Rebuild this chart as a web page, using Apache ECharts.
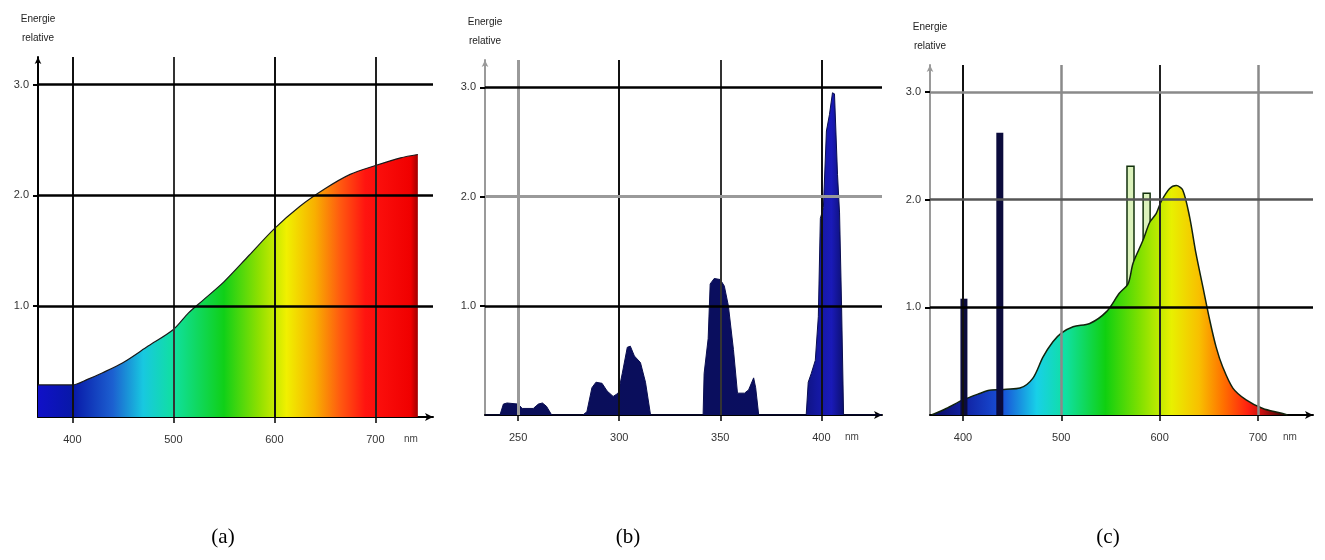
<!DOCTYPE html>
<html>
<head>
<meta charset="utf-8">
<script src="https://cdn.jsdelivr.net/npm/echarts@6/dist/echarts.min.js"></script>
<style>
html, body { margin: 0; padding: 0; background: #fff; }
#chart { width: 1325px; height: 560px; }
</style>
</head>
<body>
<div id="chart"></div>
<script>
// (a) continuous spectrum
var wlA = [366, 380, 400, 415, 430, 450, 475, 500, 515, 530, 550, 575, 600, 625, 650, 675, 700, 725, 742];
var valA = [0.29, 0.29, 0.29, 0.34, 0.40, 0.49, 0.64, 0.79, 0.94, 1.06, 1.22, 1.46, 1.70, 1.90, 2.06, 2.19, 2.27, 2.34, 2.37];

// (b) line spectrum (UV)
var wlB = [233.6, 241, 242.7, 244.5, 250, 252, 257.5, 260, 262, 264, 266.6, 282, 284, 286.5, 288.5, 291.5, 294, 297, 299.5, 301.5,
    304, 305.5, 307.5, 310.5, 313, 315.5, 341.5, 342, 344, 345, 347, 350, 352, 354, 356.5, 358.5, 362, 364, 366.5, 367.5,
    369, 392.5, 393.5, 395, 397, 398.5, 399.5, 401, 402.5, 404, 405.5, 406.5, 408, 409, 410, 411, 430];
var valB = [0, 0, 0.10, 0.11, 0.10, 0.06, 0.06, 0.10, 0.11, 0.08, 0, 0, 0.03, 0.25, 0.30, 0.29, 0.22, 0.17, 0.20, 0.38,
    0.62, 0.63, 0.54, 0.48, 0.30, 0, 0, 0.38, 0.70, 1.20, 1.25, 1.24, 1.18, 1.00, 0.60, 0.20, 0.20, 0.23, 0.34, 0.25,
    0, 0, 0.30, 0.38, 0.50, 0.90, 1.80, 1.90, 2.60, 2.75, 2.95, 2.94, 2.20, 1.85, 1.00, 0, 0];

// (c) fluorescent spectrum
var wlC = [368, 383, 400, 417, 427, 444, 458, 471, 481.5, 491.5, 500, 512, 529, 546, 559, 568, 573, 583, 590, 596.5,
    601.5, 610, 617, 623.5, 630.5, 637, 644, 651, 657.5, 664, 674.5, 688, 705, 722, 730];
var valC = [0, 0.06, 0.14, 0.20, 0.23, 0.24, 0.25, 0.34, 0.54, 0.68, 0.76, 0.82, 0.85, 0.96, 1.13, 1.22, 1.41, 1.62, 1.79, 1.87,
    1.98, 2.10, 2.13, 2.09, 1.84, 1.50, 1.19, 0.88, 0.63, 0.45, 0.25, 0.14, 0.06, 0.02, 0];
var peakWlC = [401, 437.5];
var peakValC = [1.08, 2.62];
var bandWlC = [570.4, 586.8];
var bandBaseC = [1.0, 1.3];
var bandTopC = [2.31, 2.06];

var ticksA = [400, 500, 600, 700];
var ticksB = [250, 300, 350, 400];
var ticksC = [400, 500, 600, 700];
var ticksY = [1, 2, 3];
var panelNames = ['(a)', '(b)', '(c)'];

function pairs(xs, ys) {
    return xs.map(function (x, i) { return [x, ys[i]]; });
}

function grad(stops, lo, hi) {
    return new echarts.graphic.LinearGradient(0, 0, 1, 0, stops.map(function (s) {
        return { offset: (s[0] - lo) / (hi - lo), color: s[1] };
    }));
}

function gridMarks(xs, xColors, yColors) {
    var d = [];
    xs.forEach(function (v, i) {
        d.push({ xAxis: v, lineStyle: { color: xColors[i][0], width: xColors[i][1] } });
    });
    ticksY.forEach(function (v, i) {
        d.push({ yAxis: v, lineStyle: { color: yColors[i][0], width: yColors[i][1] } });
    });
    return {
        silent: true, symbol: 'none', animation: false,
        label: { show: false },
        lineStyle: { type: 'solid' },
        emphasis: { disabled: true },
        data: d
    };
}

// narrow spikes drawn between two values, through the axis scale
function spikes(w, style) {
    return function (params, api) {
        var p0 = api.coord([api.value(0), api.value(1)]);
        var p1 = api.coord([api.value(0), api.value(2)]);
        return {
            type: 'rect',
            shape: { x: p0[0] - w / 2, y: p1[1], width: w, height: p0[1] - p1[1] },
            style: style
        };
    };
}

var labelFont = { fontFamily: 'Liberation Sans', fontSize: 11, color: '#333' };

function xAxisOf(idx, min, max, ticks, nameGap) {
    return {
        gridIndex: idx, type: 'value', min: min, max: max,
        name: 'nm', nameLocation: 'end', nameGap: nameGap,
        nameTextStyle: { fontFamily: 'Liberation Sans', fontSize: 10, color: '#444', verticalAlign: 'top', padding: [17, 0, 0, 0] },
        axisLine: { show: true, symbol: ['none', 'arrow'], symbolSize: [6, 8], lineStyle: { color: '#000', width: 2 } },
        axisTick: { show: true, customValues: ticks, length: 6, lineStyle: { color: '#000', width: 1.5 } },
        axisLabel: Object.assign({ customValues: ticks, margin: 17 }, labelFont),
        splitLine: { show: false }
    };
}

function yAxisOf(idx, color) {
    return {
        gridIndex: idx, type: 'value', min: 0, max: 3.25,
        name: 'Energie\nrelative', nameLocation: 'end', nameGap: 9,
        nameTextStyle: { fontFamily: 'Liberation Sans', fontSize: 10, color: '#222', lineHeight: 19, align: 'center' },
        axisLine: { show: true, symbol: ['none', 'arrow'], symbolSize: [5, 7], lineStyle: { color: color, width: 2 } },
        axisTick: { show: true, customValues: ticksY, length: 5, lineStyle: { color: '#000', width: 2 } },
        axisLabel: Object.assign({ customValues: ticksY, margin: 9, formatter: function (v) { return v.toFixed(1); } }, labelFont),
        splitLine: { show: false }
    };
}

var chart = echarts.init(document.getElementById('chart'));
chart.setOption({
    animation: false,
    backgroundColor: '#fff',
    title: panelNames.map(function (t, i) {
        return {
            text: t, left: [218, 623, 1103][i], top: 522, textAlign: 'center',
            textStyle: { fontFamily: 'Liberation Serif', fontSize: 21, fontWeight: 'normal', color: '#000' }
        };
    }),
    grid: [
        { left: 38, top: 57, right: 892, bottom: 143, outerBoundsMode: 'none' },
        { left: 485, top: 60, right: 443, bottom: 145, outerBoundsMode: 'none' },
        { left: 930, top: 65, right: 12, bottom: 145, outerBoundsMode: 'none' }
    ],
    xAxis: [
        xAxisOf(0, 366, 757, ticksA, -29),
        xAxisOf(1, 233.6, 430, ticksB, -37),
        xAxisOf(2, 366.5, 756, ticksC, -30)
    ],
    yAxis: [
        yAxisOf(0, '#000'),
        yAxisOf(1, '#9a9a9a'),
        yAxisOf(2, '#9a9a9a')
    ],
    series: [
        {
            type: 'line', xAxisIndex: 0, yAxisIndex: 0,
            data: pairs(wlA, valA), smooth: 0.3, showSymbol: false,
            lineStyle: { color: '#1a1a1a', width: 1.2 },
            areaStyle: {
                opacity: 1,
                color: grad([[366, '#1010c8'], [400, '#0818a8'], [440, '#1c60d0'], [470, '#18c8e0'], [500, '#10e0a0'],
                    [550, '#10d018'], [585, '#90e000'], [612, '#f0f000'], [640, '#f8b000'], [665, '#ff5a10'],
                    [690, '#ff1410'], [735, '#f00000'], [742, '#a00000']], 366, 742)
            },
            markLine: gridMarks(ticksA,
                [['#111', 2], ['#333', 2], ['#111', 2], ['#222', 2]],
                [['#000', 2.5], ['#000', 2.5], ['#000', 2.5]])
        },
        {
            type: 'line', xAxisIndex: 1, yAxisIndex: 1,
            data: pairs(wlB, valB), showSymbol: false,
            lineStyle: { color: '#0a0e50', width: 1 },
            areaStyle: {
                opacity: 1,
                color: grad([[233.6, '#0a0e58'], [385, '#0a0e60'], [398, '#1418a0'], [405, '#1a1ab8'], [411, '#0c1070'], [430, '#0a0e58']], 233.6, 430)
            },
            markLine: gridMarks(ticksB,
                [['#9a9a9a', 3], ['#111', 2], ['#333', 2], ['#111', 2]],
                [['#000', 2.5], ['#9a9a9a', 3], ['#000', 2.5]])
        },
        {
            type: 'custom', xAxisIndex: 2, yAxisIndex: 2, z: 1,
            renderItem: spikes(7, { fill: '#dcf2bc', stroke: '#12300c', lineWidth: 1.5 }),
            encode: { x: 0, y: [1, 2] },
            data: bandWlC.map(function (x, i) { return [x, bandBaseC[i], bandTopC[i]]; })
        },
        {
            type: 'line', xAxisIndex: 2, yAxisIndex: 2, z: 2,
            data: pairs(wlC, valC), smooth: 0.3, showSymbol: false,
            lineStyle: { color: '#12230c', width: 1.5 },
            areaStyle: {
                opacity: 1,
                color: grad([[368, '#0a0a60'], [400, '#1020a0'], [440, '#1850d8'], [475, '#18d0e8'], [505, '#10e0a0'],
                    [545, '#10d010'], [580, '#80e000'], [612, '#e8f000'], [640, '#f8c000'], [665, '#ff7000'],
                    [690, '#ff2010'], [705, '#c01010'], [730, '#200000']], 368, 730)
            },
            markLine: gridMarks(ticksC,
                [['#111', 2], ['#8a8a8a', 2.5], ['#222', 2], ['#8a8a8a', 2.5]],
                [['#000', 2.5], ['#555', 2.5], ['#8a8a8a', 2.5]])
        },
        {
            type: 'custom', xAxisIndex: 2, yAxisIndex: 2, z: 3,
            renderItem: spikes(7, { fill: '#0b0b3c' }),
            encode: { x: 0, y: [1, 2] },
            data: peakWlC.map(function (x, i) { return [x, 0, peakValC[i]]; })
        }
    ]
});
</script>
</body>
</html>
